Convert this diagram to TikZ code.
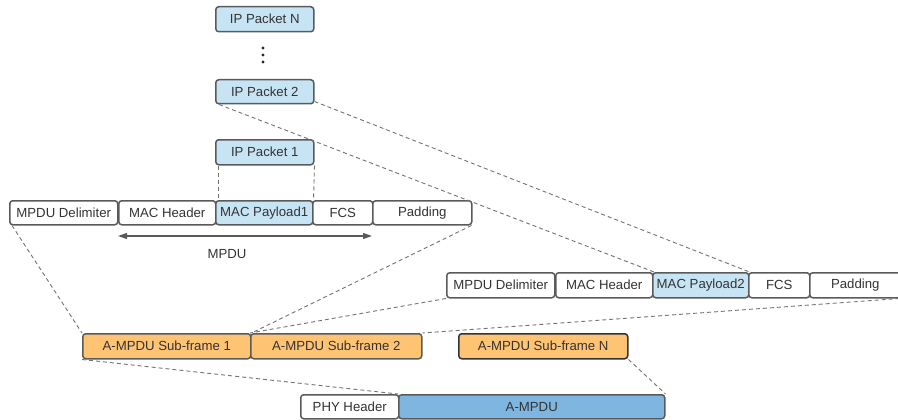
\documentclass[tikz,border=0pt]{standalone}
\usepackage{fontspec}
\setmainfont{Liberation Sans}
\usetikzlibrary{arrows.meta}
\definecolor{lblue}{HTML}{C7E4F5}
\definecolor{dblue}{HTML}{7EB6E0}
\definecolor{orng}{HTML}{FFC374}
\definecolor{edge}{HTML}{5A5A5A}
\definecolor{txt}{HTML}{333333}
\tikzset{
  box/.style={draw=edge, line width=1.5pt, rounded corners=3pt, fill=white, inner sep=0pt,
    anchor=north west, text=txt, font=\fontsize{13.2}{15}\selectfont},
  dline/.style={draw=edge!85, line width=0.9pt, dash pattern=on 4pt off 3pt},
}
\newcommand{\bx}[7]{% style, name, x1, y1, x2, y2, text
  \node[box, #1, minimum width={#5-#3}, minimum height={#6-#4}] (#2) at (#3,#4) {#7};}
\begin{document}
\begin{tikzpicture}[x=1pt,y=-1pt]
\useasboundingbox (0,0) rectangle (898,420);
% IP packets
\bx{fill=lblue}{ipn}{215}{6}{313}{31}{IP Packet N}
\bx{fill=lblue}{ip2}{215}{79}{313}{103}{IP Packet 2}
\bx{fill=lblue}{ip1}{215}{139}{313}{164}{IP Packet 1}
\foreach \yy in {48,55,62} \fill[black!85] (263,\yy) circle (1.7pt);
% row 1
\bx{}{del1}{9}{200}{117}{224}{MPDU Delimiter}
\bx{}{hdr1}{118}{200}{215}{224}{MAC Header}
\bx{fill=lblue}{pay1}{215}{200}{312}{224}{MAC Payload1}
\bx{}{fcs1}{312}{200}{372}{224}{FCS}
\bx{}{pad1}{372}{200}{471}{224}{Padding}
% MPDU arrow
\coordinate (aL) at (118,236);
\coordinate (aR) at (372,236);
\draw[edge, line width=1.2pt, {Triangle[length=9pt,width=6pt]}-{Triangle[length=9pt,width=6pt]}] (aL) -- (aR);
\node[text=txt, font=\fontsize{13.2}{15}\selectfont] (mpdu) at (227,254) {MPDU};
% row 2
\bx{}{del2}{446}{272}{554}{297}{MPDU Delimiter}
\bx{}{hdr2}{555}{272}{652}{297}{MAC Header}
\bx{fill=lblue}{pay2}{652}{272}{748}{297}{MAC Payload2}
\bx{}{fcs2}{748}{272}{809}{297}{FCS}
\bx{}{pad2}{809}{272}{900}{297}{Padding}
% row 3
\bx{fill=orng}{sf1}{82}{333}{250}{358}{A-MPDU Sub-frame 1}
\bx{fill=orng}{sf2}{250}{333}{421}{358}{A-MPDU Sub-frame 2}
\bx{fill=orng, draw=black!80}{sfn}{458}{333}{627}{358}{A-MPDU Sub-frame N}
% row 4
\bx{}{phy}{300}{394}{398}{418}{PHY Header}
\bx{fill=dblue}{ampdu}{398}{394}{664}{418}{A-MPDU}
% dashed connectors
\draw[dline] ([xshift=3pt]ip1.south west) -- ([xshift=3pt]pay1.north west);
\draw[dline] (ip1.south east) -- (pay1.north east);
\draw[dline] ([xshift=4pt]ip2.south west) -- ([xshift=2pt]pay2.north west);
\draw[dline] ([yshift=3pt]ip2.south east) -- (pay2.north east);
\draw[dline] ([xshift=3pt]del1.south west) -- (sf1.north west);
\draw[dline] ([xshift=-1pt]pad1.south east) -- (sf1.north east);
\draw[dline] (del2.south west) -- (sf2.north west);
\draw[dline] ([xshift=-2pt]pad2.south east) -- (sf2.north east);
\draw[dline] (sf1.south west) -- (ampdu.north west);
\draw[dline] (sfn.south east) -- (ampdu.north east);
\end{tikzpicture}
\end{document}
